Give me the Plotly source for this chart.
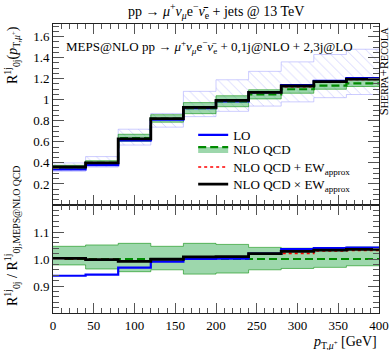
import plotly.graph_objects as go
from plotly.subplots import make_subplots

# ---- data ----
edges = [0, 40, 80, 120, 160, 200, 240, 280, 320, 360, 400]

# main panel (absolute)
nlo_main = [0.36, 0.40, 0.635, 0.82, 0.92, 0.985, 1.05, 1.10, 1.135, 1.155]
nlo_up_main = [0.377, 0.421, 0.672, 0.858, 0.973, 1.038, 1.095, 1.144, 1.18, 1.206]
nlo_dn_main = [0.352, 0.385, 0.605, 0.787, 0.868, 0.934, 1.008, 1.062, 1.10, 1.126]
lo_main = [0.338, 0.378, 0.615, 0.812, 0.92, 0.985, 1.07, 1.14, 1.18, 1.205]
lo_up_main = [0.40, 0.46, 0.72, 0.87, 1.08, 1.19, 1.27, 1.36, 1.43, 1.48]
lo_dn_main = [0.32, 0.36, 0.57, 0.74, 0.84, 0.89, 0.94, 0.98, 1.02, 1.05]
ewadd_main = [0.36, 0.40, 0.63, 0.82, 0.927, 0.993, 1.069, 1.123, 1.169, 1.192]
ewmul_main = [0.361, 0.40, 0.629, 0.82, 0.928, 0.994, 1.071, 1.131, 1.172, 1.197]

# ratio panel (to NLO QCD)
nlo_r = [1.0, 1.0, 1.0, 1.0, 1.0, 1.0, 1.0, 1.0, 1.0, 1.0]
nlo_up_r = [1.047, 1.052, 1.058, 1.047, 1.058, 1.054, 1.043, 1.04, 1.04, 1.044]
nlo_dn_r = [0.978, 0.963, 0.953, 0.96, 0.944, 0.948, 0.96, 0.965, 0.969, 0.975]
lo_r = [0.938, 0.942, 0.968, 0.99, 1.0, 1.001, 1.02, 1.037, 1.04, 1.042]
ewadd_r = [1.001, 0.998, 0.992, 0.999, 1.007, 1.008, 1.018, 1.021, 1.03, 1.032]
ewmul_r = [1.002, 0.998, 0.991, 0.999, 1.008, 1.009, 1.02, 1.028, 1.033, 1.036]

main_ticks = [0.2, 0.4, 0.6, 0.8, 1.0, 1.2, 1.4, 1.6]
main_ticktext = ["0.2", "0.4", "0.6", "0.8", "1", "1.2", "1.4", "1.6"]
ratio_ticks = [0.9, 1.0, 1.1]
ratio_ticktext = ["0.9", "1.0", "1.1"]
x_ticks = [0, 50, 100, 150, 200, 250, 300, 350, 400]

FONT = "Liberation Serif"
BLUE = "#0000ff"
GREEN = "#008a00"
BAND_GREEN = "rgba(60,175,90,0.5)"
HATCH = "rgba(120,120,255,0.7)"
DASH = "8px,4px"


def st(v):
    return list(v) + [v[-1]]


fig = make_subplots(rows=2, cols=1, shared_xaxes=True, vertical_spacing=0,
                    row_heights=[181, 108])


def line(y, row, color, width, dash="solid"):
    fig.add_trace(go.Scatter(x=edges, y=st(y), mode="lines", line_shape="hv",
                             line=dict(color=color, width=width, dash=dash),
                             showlegend=False, hoverinfo="skip"),
                  row=row, col=1)


def band(dn, up, row, fillcolor, linecolor, pattern=None):
    fig.add_trace(go.Scatter(x=edges, y=st(dn), mode="lines", line_shape="hv",
                             line=dict(color=linecolor, width=0.8),
                             showlegend=False, hoverinfo="skip"), row=row, col=1)
    kw = {}
    if pattern:
        kw["fillpattern"] = pattern
    fig.add_trace(go.Scatter(x=edges, y=st(up), mode="lines", line_shape="hv",
                             line=dict(color=linecolor, width=0.8), fill="tonexty",
                             fillcolor=fillcolor, showlegend=False,
                             hoverinfo="skip", **kw), row=row, col=1)


# main panel
band(lo_dn_main, lo_up_main, 1, "rgba(0,0,0,0)", "rgba(150,150,255,0.6)",
     pattern=dict(shape="\\", fgcolor=HATCH, bgcolor="rgba(0,0,0,0)", size=7, solidity=0.12))
band(nlo_dn_main, nlo_up_main, 1, BAND_GREEN, "rgba(0,140,0,0.7)")
line(lo_main, 1, BLUE, 2.2)
line(nlo_main, 1, GREEN, 2.2, DASH)
line(ewadd_main, 1, "#ff0000", 1.6, "dot")
line(ewmul_main, 1, "black", 2.8)

# ratio panel
band(nlo_dn_r, nlo_up_r, 2, BAND_GREEN, "rgba(0,140,0,0.7)")
line(nlo_r, 2, GREEN, 2.2, DASH)
line(lo_r, 2, BLUE, 2.2)
line(ewadd_r, 2, "#ff0000", 1.6, "dot")
line(ewmul_r, 2, "black", 2.8)

# legend-only entries (one legend per entry for exact spacing)
fig.add_trace(go.Scatter(x=[None], y=[None], mode="lines", name="LO", legend="legend",
                         line=dict(color=BLUE, width=2.2)), row=1, col=1)
fig.add_trace(go.Scatter(x=[None], y=[None], mode="lines", name="NLO QCD", legend="legend2",
                         fill="toself", fillcolor=BAND_GREEN,
                         line=dict(color=GREEN, width=2.2, dash=DASH)), row=1, col=1)
fig.add_trace(go.Scatter(x=[None], y=[None], mode="lines", legend="legend3",
                         name="NLO QCD + EW<sub>approx</sub>",
                         line=dict(color="#ff0000", width=1.6, dash="dot")), row=1, col=1)
fig.add_trace(go.Scatter(x=[None], y=[None], mode="lines", legend="legend4",
                         name="NLO QCD × EW<sub>approx</sub>",
                         line=dict(color="black", width=2.8)), row=1, col=1)

axcol = "#222222"
common_x = dict(range=[0, 400], tickvals=x_ticks, ticks="inside", ticklen=10,
                tickcolor="#555", showline=True, linecolor=axcol, linewidth=1,
                mirror="allticks", showgrid=False, zeroline=False,
                minor=dict(ticks="inside", dtick=10, ticklen=5, tickcolor="#555"))
fig.update_xaxes(**common_x, showticklabels=False, row=1, col=1)
fig.update_xaxes(**common_x, showticklabels=True, row=2, col=1)
fig.update_yaxes(range=[0, 1.72], tickvals=main_ticks, ticktext=main_ticktext,
                 ticks="inside", ticklen=11, tickcolor="#555", showline=True,
                 linecolor=axcol, mirror="allticks", showgrid=False, zeroline=False,
                 minor=dict(ticks="inside", dtick=0.05, ticklen=6, tickcolor="#555"),
                 row=1, col=1)
fig.update_yaxes(range=[0.8, 1.2], tickvals=ratio_ticks, ticktext=ratio_ticktext,
                 ticks="inside", ticklen=11, tickcolor="#555", showline=True,
                 linecolor=axcol, mirror="allticks", showgrid=False, zeroline=False,
                 minor=dict(ticks="inside", dtick=0.02, ticklen=6, tickcolor="#555"),
                 row=2, col=1)


def leg(ypos):
    return dict(x=0.43, y=ypos, xanchor="left", yanchor="middle",
                bgcolor="rgba(0,0,0,0)", font=dict(family=FONT, size=13),
                itemwidth=30)


fig.update_layout(
    width=392, height=350,
    margin=dict(l=53, r=13, t=24, b=37, autoexpand=False),
    paper_bgcolor="white", plot_bgcolor="white",
    font=dict(family=FONT, size=13, color="black"),
    showlegend=True,
    legend=leg(0.616),
    legend2=leg(0.567),
    legend3=leg(0.505),
    legend4=leg(0.446),
)

mu = "<i>μ</i>"
annotations = [
    dict(text="pp → " + mu + "<sup>+</sup><i>ν</i><sub>" + mu + "</sub>e<sup>−</sup><i>ν̄</i><sub>e</sub> + jets @ 13 TeV",
         x=0.5, y=1.0, xref="paper", yref="paper", xanchor="center", yanchor="bottom",
         yshift=1, showarrow=False, font=dict(size=14)),
    dict(text="MEPS@NLO pp → " + mu + "<sup>+</sup><i>ν</i><sub>" + mu + "</sub>e<sup>−</sup><i>ν̄</i><sub>e</sub> + 0,1j@NLO + 2,3j@LO",
         x=0.034, y=0.92, xref="paper", yref="paper", xanchor="left", yanchor="middle",
         showarrow=False, font=dict(size=13)),
    dict(text="S<span style='font-size:10px'>HERPA</span>+R<span style='font-size:10px'>ECOLA</span>",
         x=1.0175, y=0.995, xref="paper", yref="paper", xanchor="center", yanchor="top",
         textangle=-90, showarrow=False, font=dict(size=12.5)),
    dict(text="R<sup>1j</sup><sub>0j</sub>(<i>p</i><sub>T," + mu + "<sup>+</sup></sub>)",
         x=0, y=1.0, xref="paper", yref="paper", xanchor="center", yanchor="top",
         xshift=-41, textangle=-90, showarrow=False, font=dict(size=14)),
    dict(text="R<sup>1j</sup><sub>0j</sub> / R<sup>1j</sup><sub>0j,MEPS@NLO QCD</sub>",
         x=0, y=0.0, xref="paper", yref="paper", xanchor="center", yanchor="bottom",
         xshift=-41, yshift=5, textangle=-90, showarrow=False, font=dict(size=14)),
    dict(text="<i>p</i><sub>T," + mu + "<sup>+</sup></sub> [GeV]",
         x=1.0, y=0, xref="paper", yref="paper", xanchor="right", yanchor="middle",
         yshift=-29, showarrow=False, font=dict(size=14)),
]
fig.update_layout(annotations=annotations)

fig.write_html("out.html", config={"displayModeBar": False},
               post_script="document.body.style.margin='0px';")
